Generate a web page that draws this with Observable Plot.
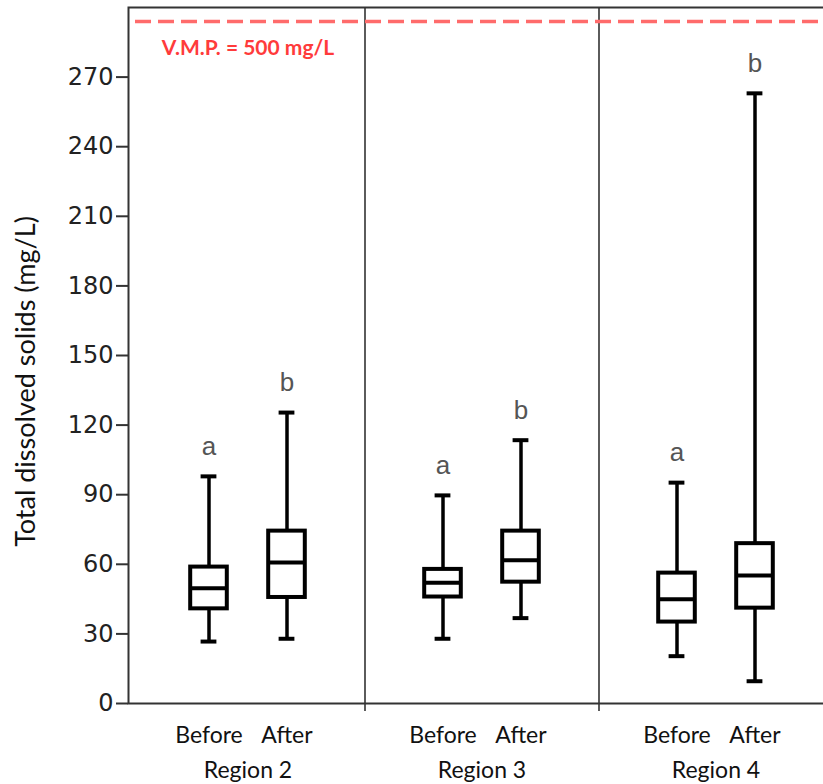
<!DOCTYPE html>
<html>
<head>
<meta charset="utf-8">
<script src="https://cdn.jsdelivr.net/npm/d3@7"></script>
<script src="https://cdn.jsdelivr.net/npm/@observablehq/plot@0.6"></script>
<style>
  html, body { margin: 0; padding: 0; background: #fff; overflow: hidden; }
  #chart svg { max-width: none !important; }
</style>
</head>
<body>
<div id="chart"></div>
<script>
// ---- data ----
const regions = ["Region 2", "Region 3", "Region 4"];
const periods = ["Before", "After"];
// order: R2 Before, R2 After, R3 Before, R3 After, R4 Before, R4 After
const whiskerLow  = [26.7, 27.9, 27.9, 36.8, 20.4, 9.6];
const q1          = [40.8, 45.7, 45.9, 52.3, 35.1, 41.1];
const median      = [49.7, 60.8, 52.1, 61.7, 44.9, 55.2];
const q3          = [58.8, 74.3, 57.8, 74.3, 56.2, 68.9];
const whiskerHigh = [97.9, 125.4, 89.7, 113.5, 95.2, 263];
const letters     = ["a", "b", "a", "b", "a", "b"];
const yTicks = [0, 30, 60, 90, 120, 150, 180, 210, 240, 270];
const yMax = 300;
const vmpLine = [294];           // reference line as drawn (top of the chart)
const vmpLabel = "V.M.P. = 500 mg/L";
const yTitle = "Total dissolved solids (mg/L)";

// ---- build slot domain (Before, mid, After per region, spacers between) ----
const slots = [];
regions.forEach((r, i) => {
  if (i > 0) slots.push(`gap${i}a`, `gap${i}b`, `gap${i}c`);
  slots.push(`${r}|Before`, `${r}|mid`, `${r}|After`);
});
const separators = regions.slice(1).map((_, i) => `gap${i + 1}b`);
const periodSlots = regions.flatMap(r => periods.map(p => `${r}|${p}`));
const midSlots = regions.map(r => `${r}|mid`);

const stats = [];
regions.forEach((r, i) => periods.forEach((p, j) => {
  const k = i * 2 + j;
  stats.push({slot: `${r}|${p}`, low: whiskerLow[k], q1: q1[k], med: median[k],
              q3: q3[k], high: whiskerHigh[k], letter: letters[k]});
}));

const boxInset = 1.2, capInset = 11.6;

const chart = Plot.plot({
  width: 835,
  height: 784,
  marginTop: 7,
  marginBottom: 81,
  marginLeft: 128,
  marginRight: 0,
  style: {fontFamily: "DejaVu Sans", background: "white", color: "#222", maxWidth: "none"},
  x: {type: "band", domain: slots, paddingInner: 0, paddingOuter: 1.5, axis: null},
  y: {domain: [0, yMax], axis: null},
  marks: [
    // separators between regions
    Plot.ruleX(separators, {x: d => d, stroke: "#333", strokeWidth: 1.6, insetBottom: -8}),
    // frame
    Plot.frame({stroke: "#333", strokeWidth: 2}),
    // y axis
    Plot.axisY({ticks: yTicks, tickSize: 12, tickPadding: 3, fontSize: 24, label: null,
                stroke: "#333", strokeWidth: 2, fill: "#222"}),
    Plot.text([yTitle], {frameAnchor: "left", textAnchor: "middle", rotate: -90, dx: -102, dy: 26,
                fontFamily: "Lato", fontSize: 27, fill: "#111"}),
    // x labels
    Plot.axisX({ticks: periodSlots, tickSize: 0, tickPadding: 23, label: null,
                tickFormat: d => d.split("|")[1], fontFamily: "Lato", fontSize: 23, fill: "#111"}),
    Plot.axisX({ticks: midSlots, tickSize: 0, tickPadding: 58, label: null,
                tickFormat: d => d.split("|")[0], fontFamily: "Lato", fontSize: 23, fill: "#111"}),
    // V.M.P. reference
    Plot.ruleY(vmpLine, {stroke: "#ff6b6b", strokeWidth: 3.5, strokeDasharray: "16,7", insetLeft: 7}),
    Plot.text(vmpLine, {x: () => `${regions[0]}|mid`, y: d => d, dy: 27, text: () => vmpLabel,
                fill: "#ff3b3b", fontFamily: "Lato", fontWeight: "bold", fontSize: 21}),
    // whiskers
    Plot.ruleX(stats, {x: "slot", y1: "low", y2: "q1", stroke: "black", strokeWidth: 3.5}),
    Plot.ruleX(stats, {x: "slot", y1: "q3", y2: "high", stroke: "black", strokeWidth: 3.5}),
    // boxes
    Plot.barY(stats, {x: "slot", y1: "q1", y2: "q3", fill: "white", stroke: "black",
                strokeWidth: 4, insetLeft: boxInset, insetRight: boxInset}),
    Plot.tickY(stats, {x: "slot", y: "med", stroke: "black", strokeWidth: 4,
                insetLeft: boxInset, insetRight: boxInset}),
    // caps
    Plot.tickY(stats, {x: "slot", y: "low", stroke: "black", strokeWidth: 4,
                insetLeft: capInset, insetRight: capInset}),
    Plot.tickY(stats, {x: "slot", y: "high", stroke: "black", strokeWidth: 4,
                insetLeft: capInset, insetRight: capInset}),
    // significance letters
    Plot.text(stats, {x: "slot", y: "high", text: "letter", dy: -30,
                fontFamily: "Liberation Sans", fontSize: 26, fill: "#555"})
  ]
});
document.getElementById("chart").appendChild(chart);
</script>
</body>
</html>
